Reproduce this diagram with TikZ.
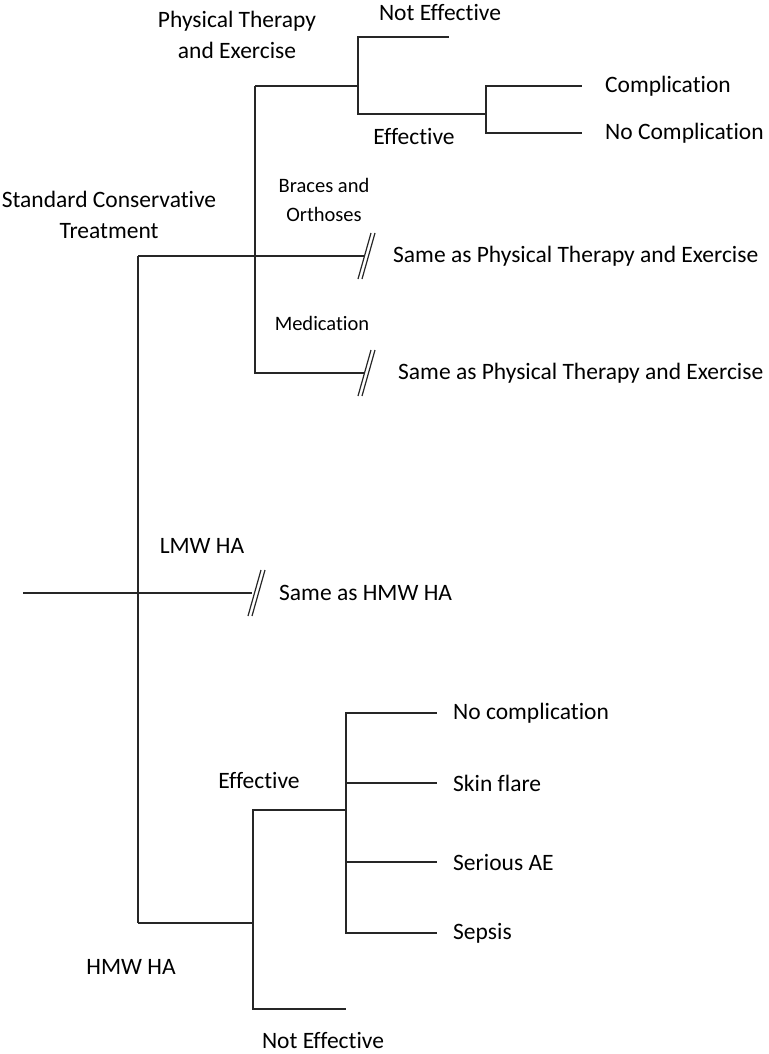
\documentclass[tikz,border=0pt]{standalone}
\usepackage{fontspec}
\setmainfont{Carlito}[Ligatures=NoCommon]
\usetikzlibrary{positioning}

\tikzset{
  branch/.style={line width=1.8pt, draw=black!85},
  lbl/.style={font=\fontsize{23.5}{31}\selectfont, align=center, inner sep=0pt},
  smalllbl/.style={font=\fontsize{20.5}{29}\selectfont, align=center, inner sep=0pt},
  breakmark/.pic={
    \draw[line width=1.2pt, draw=black!85] (5,-23) -- (-8,23);
    \draw[line width=1.2pt, draw=black!85] (9,-23) -- (-4,23);
  }
}

\begin{document}
\begin{tikzpicture}[x=1pt,y=-1pt]
        \useasboundingbox (0,0) rectangle (768,1054);
        \coordinate (root) at (23,593);
        \coordinate (sct) at (138,256);
        \coordinate (hmw) at (138,923);
        \coordinate (lmwend) at (252,593);
        \coordinate (ptbr) at (255,86);
        \coordinate (medbr) at (255,373);
        \coordinate (bracesend) at (365,256);
        \coordinate (medend) at (365,373);
        \coordinate (ptj) at (358,86);
        \coordinate (ne1) at (449,37);
        \coordinate (eff1) at (486,114);
        \coordinate (comp) at (582,86);
        \coordinate (nocomp) at (582,133);
        \coordinate (hmwj) at (253,923);
        \coordinate (eff2) at (346,810);
        \coordinate (ne2) at (346,1009);

        \draw[branch] (root) -- (lmwend);
        \draw[branch] (sct) -- (hmw);
        \draw[branch] (sct) -- (bracesend);
        \draw[branch] (ptbr) -- (medbr) -- (medend);
        \draw[branch] (ptbr) -- (ptj);
        \draw[branch] (ptj) |- (ne1);
        \draw[branch] (ptj) |- (eff1);
        \draw[branch] (eff1) |- (comp);
        \draw[branch] (eff1) |- (nocomp);
        \draw[branch] (hmw) -- (hmwj);
        \draw[branch] (hmwj) |- (eff2);
        \draw[branch] (hmwj) |- (ne2);

        \pic at (366,256) {breakmark};
        \pic at (366,373) {breakmark};
        \pic at (256,593) {breakmark};

        \node[lbl] (sctlbl) at (109,215) {Standard Conservative\\Treatment};
        \node[lbl] (ptlbl) at (237,35) {Physical Therapy\\and Exercise};
        \node[smalllbl] (braceslbl) at (324,200) {Braces and\\Orthoses};
        \node[smalllbl] (medlbl) at (322,323) {Medication};
        \node[lbl] (ne1lbl) at (440,13) {Not Effective};
        \node[lbl] (eff1lbl) at (414,137) {Effective};
        \node[lbl, right=23pt of comp] (complbl) {Complication};
        \node[lbl, right=23pt of nocomp] (nocomplbl) {No Complication};
        \node[lbl, right=28pt of bracesend] (same1) {Same as Physical Therapy and Exercise};
        \node[lbl, right=33pt of medend] (same2) {Same as Physical Therapy and Exercise};
        \node[lbl] (lmwlbl) at (202,546) {LMW HA};
        \node[lbl, right=27pt of lmwend] (same3) {Same as HMW HA};
        \node[lbl] (eff2lbl) at (259,780) {Effective};
        \node[lbl] (hmwlbl) at (131,967) {HMW HA};
        \node[lbl] (ne2lbl) at (323,1040) {Not Effective};

        \foreach \y/\n/\t in {713/o1/No complication, 783/o2/Skin flare, 862/o3/Serious AE, 933/o4/Sepsis} {
            \coordinate (\n) at (437,\y);
            \draw[branch] (eff2) |- (\n);
            \node[lbl, right=16pt of \n] (\n lbl) {\t};
        }
    \end{tikzpicture}
\end{document}
